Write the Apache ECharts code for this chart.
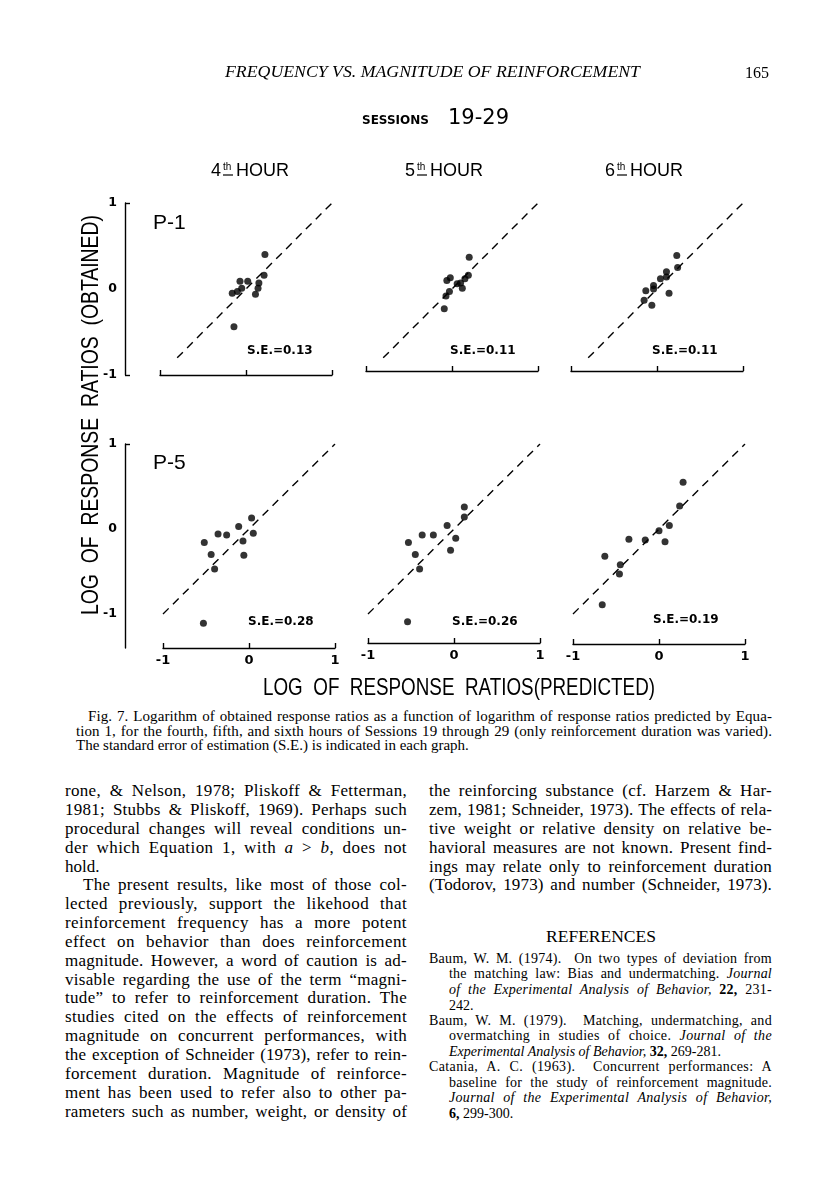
<!DOCTYPE html>
<html><head><meta charset="utf-8">
<script src="https://cdn.jsdelivr.net/npm/echarts@6/dist/echarts.min.js"></script>
<style>
html,body{margin:0;padding:0;background:#fff;}
#page{position:relative;width:816px;height:1200px;overflow:hidden;background:#fff;}
#chart{position:absolute;left:0;top:0;width:816px;height:700px;}
.ln{position:absolute;white-space:pre;color:#000;transform-origin:0 50%;font-family:"Liberation Serif","Times New Roman",serif;}
</style></head><body>
<div id="page"><div id="chart"></div></div>
<script>
// ---------------- DATA ----------------
const xTickValues = [-1, 0, 1];
const yTickValues = [-1, 0, 1];
const hours = ['4', '5', '6'];
const subjects = ['P-1', 'P-5'];
const seLabels = ['S.E.=0.13', 'S.E.=0.11', 'S.E.=0.11', 'S.E.=0.28', 'S.E.=0.26', 'S.E.=0.19'];
// [predicted, obtained]
const p1Hour4 = [[0.22,0.40],[-0.07,0.09],[0.02,0.09],[-0.16,-0.05],[-0.10,-0.03],[-0.05,0.01],[0.21,0.16],[0.15,0.07],[0.14,0.01],[0.11,-0.06],[-0.14,-0.44]];
const p1Hour5 = [[0.20,0.37],[-0.06,0.10],[-0.02,0.13],[0.19,0.16],[0.15,0.12],[0.10,0.07],[0.06,0.06],[0.12,0.01],[-0.03,-0.03],[-0.07,-0.08],[-0.09,-0.23]];
const p1Hour6 = [[0.23,0.39],[0.24,0.25],[0.11,0.20],[0.11,0.14],[0.04,0.12],[-0.04,0.04],[-0.04,0.00],[-0.13,-0.02],[-0.15,-0.13],[-0.06,-0.19],[0.14,-0.05]];
const p5Hour4 = [[0.03,0.13],[-0.12,0.03],[0.05,-0.05],[-0.07,-0.14],[-0.06,-0.31],[-0.36,-0.06],[-0.26,-0.07],[-0.52,-0.16],[-0.44,-0.30],[-0.40,-0.47],[-0.53,-1.11]];
const p5Hour5 = [[0.12,0.26],[0.12,0.14],[-0.08,0.04],[0.02,-0.11],[-0.04,-0.25],[-0.24,-0.07],[-0.37,-0.07],[-0.53,-0.16],[-0.45,-0.30],[-0.40,-0.47],[-0.54,-1.09]];
const p5Hour6 = [[0.28,0.55],[0.24,0.27],[0.12,0.04],[0.00,-0.02],[0.07,-0.15],[-0.16,-0.13],[-0.35,-0.12],[-0.63,-0.32],[-0.45,-0.42],[-0.46,-0.53],[-0.66,-0.89]];
// identity (matching) lines
const diagTop = [[-0.8,-0.8],[1,1]];
const diagBottom = [[-1,-1],[1,1]];

// ---------------- CHART ----------------
const panels = [p1Hour4, p1Hour5, p1Hour6, p5Hour4, p5Hour5, p5Hour6];
const INK = '#000';
const grids = [
  {left:160, top:203, width:172, height:172},
  {left:366, top:203, width:172, height:172},
  {left:571, top:203, width:172, height:172},
  {left:163, top:444, width:172, height:204},
  {left:368, top:444, width:172, height:204},
  {left:573, top:444, width:172, height:204}
];
const xOffsets = [0, -4, -4, 0, -5, -4];
const _ctx = document.createElement('canvas').getContext('2d');
function tw(t, f){ _ctx.font = f; return _ctx.measureText(t).width; }

const xAxes = grids.map((g,i)=>({
  gridIndex:i, type:'value', min:-1, max:1, interval:1, offset:xOffsets[i],
  axisLine:{show:true, onZero:false, lineStyle:{color:INK, width:1.4}},
  axisTick:{show:true, inside:true, length:5, lineStyle:{color:INK, width:1.4}},
  axisLabel:{show:i>=3, color:INK, fontFamily:'DejaVu Sans', fontWeight:'bold', fontSize:13, margin:6},
  splitLine:{show:false}
}));
const yAxes = grids.map((g,i)=>{
  const top = i < 3;
  const left = (i === 0 || i === 3);
  return {
    gridIndex:i, type:'value', min: top ? -1 : -1.4, max:1, show:left,
    position:'left', offset: i===0 ? 35 : 38,
    axisLine:{show:true, onZero:false, lineStyle:{color:INK, width:1.4}},
    axisTick:{show:true, inside:true, length:5, lineStyle:{color:INK, width:1.4}, customValues: top ? [-1, 1] : [1]},
    axisLabel:{show:true, color:INK, fontFamily:'DejaVu Sans', fontWeight:'bold', fontSize:12.5, margin:8, customValues: yTickValues},
    splitLine:{show:false}
  };
});
const series = [];
panels.forEach((pts,i)=>{
  series.push({type:'line', xAxisIndex:i, yAxisIndex:i, data: i<3 ? diagTop : diagBottom, symbol:'none', silent:true,
    lineStyle:{color:INK, width:1.4, type:[8,6]}, animation:false});
  series.push({type:'scatter', xAxisIndex:i, yAxisIndex:i, data:pts, symbol:'circle', symbolSize:7,
    itemStyle:{color:INK}, animation:false});
});

const graphic = [];
function gtext(text, x, y, font, opts){
  graphic.push(Object.assign({type:'text', x:x, y:y, silent:true,
    style:{text:text, font:font, fill:INK, align:'left', verticalAlign:'middle', textAlign:'left', textVerticalAlign:'middle'}}, opts||{}));
}
// Sessions heading
gtext('SESSIONS', 362, 121, 'bold 12px "DejaVu Sans"');
gtext('19-29', 448, 119, '21px "DejaVu Sans"');
// hour titles
const hourX = [211, 405, 605];
hours.forEach((h,i)=>{
  const x = hourX[i];
  gtext(h, x, 171, '18px "Liberation Sans"');
  gtext('th', x+12, 167, '10px "Liberation Sans"');
  graphic.push({type:'line', silent:true, shape:{x1:x+12, y1:175, x2:x+22, y2:175}, style:{stroke:INK, lineWidth:1.2}});
  gtext('HOUR', x+25, 171, '18px "Liberation Sans"');
});
// subject labels
gtext(subjects[0], 153, 223, '21px "Liberation Sans"');
gtext(subjects[1], 153, 463, '21px "Liberation Sans"');
// S.E. labels
const seX = [247, 450, 652, 248, 452, 653];
const seY = [351, 351, 351, 622, 622, 620];
seLabels.forEach((s,i)=> gtext(s, seX[i], seY[i], 'bold 12px "DejaVu Sans"'));
// axis titles
const yTitle = 'LOG  OF  RESPONSE  RATIOS  (OBTAINED)';
const tf = '24px "Liberation Sans"';
gtext(yTitle, 91, 615, tf, {rotation: Math.PI/2, scaleX: 400 / tw(yTitle, tf)});
const xTitle = 'LOG  OF  RESPONSE  RATIOS(PREDICTED)';
gtext(xTitle, 263, 688, tf, {scaleX: 392 / tw(xTitle, tf)});

const chart = echarts.init(document.getElementById('chart'), null, {renderer:'canvas'});
chart.setOption({
  animation:false, backgroundColor:'#fff',
  grid: grids, xAxis: xAxes, yAxis: yAxes, series: series, graphic: graphic
});

// ---------------- PAGE TEXT ----------------
const page = document.getElementById('page');
function line(html, x, yc, w, size, mode, extra){
  const d = document.createElement('div');
  d.className = 'ln';
  const L = Math.round(size*1.2);
  d.style.fontSize = size + 'px';
  d.style.lineHeight = L + 'px';
  d.style.left = x + 'px';
  d.style.top = (yc - L/2 - (extra && extra.caps ? 0 : 0.11*size)) + 'px';
  d.innerHTML = html;
  page.appendChild(d);
  if (!w) return d;
  const nat = d.getBoundingClientRect().width;
  if (nat > w || mode === 'fit') {
    d.style.transform = 'scaleX(' + (w/nat) + ')';
  } else if (mode === 'justify') {
    const txt = d.textContent;
    const n = txt.length, s = (txt.match(/ /g)||[]).length;
    const extraW = w - nat;
    const ls = s ? 0.35*extraW/n : extraW/n;
    d.style.letterSpacing = ls + 'px';
    const nat2 = d.getBoundingClientRect().width;
    if (s) d.style.wordSpacing = ((w - nat2)/s) + 'px';
    const nat3 = d.getBoundingClientRect().width;
    if (nat3 > w) d.style.transform = 'scaleX(' + (w/nat3) + ')';
  }
  return d;
}
// running head
line('<i>FREQUENCY VS. MAGNITUDE OF REINFORCEMENT</i>', 225, 72, 415, 17, 'fit', {caps:true});
line('165', 745, 72, 0, 16, null, {caps:true});

// caption
const capLines = [
  'Fig. 7. Logarithm of obtained response ratios as a function of logarithm of response ratios predicted by Equa-',
  'tion 1, for the fourth, fifth, and sixth hours of Sessions 19 through 29 (only reinforcement duration was varied).',
  'The standard error of estimation (S.E.) is indicated in each graph.'
];
line(capLines[0], 88, 718, 684, 15, 'justify');
line(capLines[1], 76, 733, 696, 15, 'justify');
line(capLines[2], 76, 747, 0, 15, null);

// body text
const leftCol = [
  ['rone, &amp; Nelson, 1978; Pliskoff &amp; Fetterman,', 1],
  ['1981; Stubbs &amp; Pliskoff, 1969). Perhaps such', 1],
  ['procedural changes will reveal conditions un-', 1],
  ['der which Equation 1, with <i>a</i> &gt; <i>b</i>, does not', 1],
  ['hold.', 0],
  ['The present results, like most of those col-', 2],
  ['lected previously, support the likehood that', 1],
  ['reinforcement frequency has a more potent', 1],
  ['effect on behavior than does reinforcement', 1],
  ['magnitude. However, a word of caution is ad-', 1],
  ['visable regarding the use of the term \u201Cmagni-', 1],
  ['tude\u201D to refer to reinforcement duration. The', 1],
  ['studies cited on the effects of reinforcement', 1],
  ['magnitude on concurrent performances, with', 1],
  ['the exception of Schneider (1973), refer to rein-', 1],
  ['forcement duration. Magnitude of reinforce-', 1],
  ['ment has been used to refer also to other pa-', 1],
  ['rameters such as number, weight, or density of', 1]
];
leftCol.forEach((l,i)=>{
  const yc = 793 + i*18.85;
  if (l[1] === 2) line(l[0], 83, yc, 324, 17, 'justify');
  else if (l[1] === 1) line(l[0], 65, yc, 342, 17, 'justify');
  else line(l[0], 65, yc, 0, 17, null);
});
const rightCol = [
  'the reinforcing substance (cf. Harzem &amp; Har-',
  'zem, 1981; Schneider, 1973). The effects of rela-',
  'tive weight or relative density on relative be-',
  'havioral measures are not known. Present find-',
  'ings may relate only to reinforcement duration',
  '(Todorov, 1973) and number (Schneider, 1973).'
];
rightCol.forEach((t,i)=> line(t, 429, 793 + i*18.85, 343, 17, 'justify'));

const refTitle = line('REFERENCES', 0, 936, 0, 17.5, null, {caps:true});
refTitle.style.left = (601 - refTitle.getBoundingClientRect().width/2) + 'px';

const refs = [
  ['Baum, W. M. (1974).  On two types of deviation from', 0, 1],
  ['the matching law: Bias and undermatching. <i>Journal</i>', 1, 1],
  ['<i>of the Experimental Analysis of Behavior,</i> <b>22,</b> 231-', 1, 1],
  ['242.', 1, 0],
  ['Baum, W. M. (1979).  Matching, undermatching, and', 0, 1],
  ['overmatching in studies of choice. <i>Journal of the</i>', 1, 1],
  ['<i>Experimental Analysis of Behavior,</i> <b>32,</b> 269-281.', 1, 0],
  ['Catania, A. C. (1963).  Concurrent performances: A', 0, 1],
  ['baseline for the study of reinforcement magnitude.', 1, 1],
  ['<i>Journal of the Experimental Analysis of Behavior,</i>', 1, 1],
  ['<b>6,</b> 299-300.', 1, 0]
];
const refY = [960, 975, 991, 1007, 1022, 1037, 1053, 1068, 1084, 1099, 1115];
refs.forEach((r,i)=>{
  const x = r[1] ? 449 : 429;
  line(r[0], x, refY[i], r[2] ? 772 - x : 0, 14, r[2] ? 'justify' : null);
});
</script>
</body></html>
